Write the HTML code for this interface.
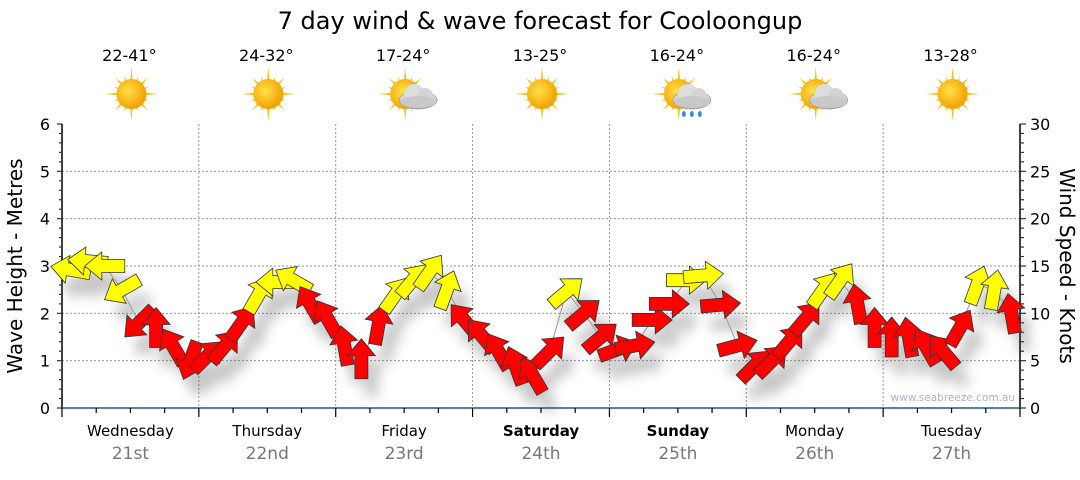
<!DOCTYPE html>
<html><head><meta charset="utf-8">
<style>
body{margin:0;background:#fff;width:1080px;height:475px;overflow:hidden;font-family:"Liberation Sans","DejaVu Sans",sans-serif}
svg text{font-family:"DejaVu Sans","Liberation Sans",sans-serif}
</style></head>
<body>
<svg id="chart" width="1080" height="475" viewBox="0 0 1080 475">
<defs>
<radialGradient id="sunG" cx="0.4" cy="0.4" r="0.6"><stop offset="0" stop-color="#ffe14a"/><stop offset="1" stop-color="#f5a000"/></radialGradient>
<linearGradient id="cloudG" x1="0" y1="0" x2="0" y2="1"><stop offset="0" stop-color="#eee"/><stop offset="1" stop-color="#aaa"/></linearGradient>
<filter id="shadow" x="-50%" y="-50%" width="200%" height="200%"><feGaussianBlur stdDeviation="6"/></filter>
</defs>
<text x="540" y="29" text-anchor="middle" font-size="24" fill="#000">7 day wind &amp; wave forecast for Cooloongup</text>
<g id="grid"></g>
<g id="weather"></g>
<g id="axes"></g>
<g id="shadowLayer" filter="url(#shadow)" opacity="0.3"></g>
<polyline id="windLine" fill="none" stroke="#999" stroke-width="1"></polyline>
<g id="arrows"></g>
<text x="1015" y="401" text-anchor="end" font-size="10.5" fill="#a9b4c8">www.seabreeze.com.au</text>
<text transform="translate(22,266) rotate(-90)" text-anchor="middle" font-size="20" fill="#000">Wave Height - Metres</text>
<text transform="translate(1060,266) rotate(90)" text-anchor="middle" font-size="20" fill="#000">Wind Speed - Knots</text>
</svg>
<script>
const days=["Wednesday","Thursday","Friday","Saturday","Sunday","Monday","Tuesday"];
const dates=["21st","22nd","23rd","24th","25th","26th","27th"];
const boldDays=[false,false,false,true,true,false,false];
const temps=["22-41°","24-32°","17-24°","13-25°","16-24°","16-24°","13-28°"];
const icons=["sun","sun","cloud","sun","rain","cloud","sun"];
const waveTicks=[0,1,2,3,4,5,6];
const windTicks=[0,5,10,15,20,25,30];
const windSpeed=[14.6,15.5,15,12.5,9,8.5,6.5,5,
 5.5,6.5,9,12,13.3,13.5,11,9.5,
 6.6,5.2,8.8,12,13.5,14.4,12.5,9.3,
 7.7,6,4.5,3.5,6,12.3,10,7.5,
 6.2,6.6,9.3,11,13.5,14,10.9,6.6,
 4.5,5,7,9.5,12.5,13.5,11,8.5,
 7.5,7.5,6.5,6,8.5,13,12.5,10];
const windDir=[280,275,270,240,225,0,330,200,
 45,40,35,30,270,300,330,330,
 350,0,10,35,40,35,20,320,
 320,330,340,330,45,50,50,50,
 70,80,90,90,90,85,85,75,
 45,45,40,40,35,35,350,0,
 0,350,330,320,30,20,10,350];

const NS='http://www.w3.org/2000/svg';
const X0=62,X1=1020,Y0=408,YT=124;
const dayW=(X1-X0)/7;
const xPos=i=>X0+(i+0.5)*(X1-X0)/windSpeed.length;
const yWave=v=>Y0-(v/6)*(Y0-YT);
const yWind=v=>Y0-(v/30)*(Y0-YT);
function el(tag,attrs,parent){const e=document.createElementNS(NS,tag);for(const k in attrs)e.setAttribute(k,attrs[k]);parent.appendChild(e);return e;}
const grid=document.getElementById('grid'),axes=document.getElementById('axes');
waveTicks.forEach(v=>{if(v>0&&v<6){const l=el('line',{x1:X0,x2:X1,y1:yWave(v),y2:yWave(v),stroke:'#999','stroke-dasharray':'2,2','stroke-width':1},grid);

}});
for(let d=1;d<7;d++){const x=X0+d*dayW;const l=el('line',{x1:x,x2:x,y1:YT,y2:Y0,stroke:'#999','stroke-dasharray':'2,2','stroke-width':1},grid);

}
el('line',{x1:X0,x2:X0,y1:YT,y2:Y0,stroke:'#000','stroke-width':1.5},axes);
for(let k=0;k<=30;k++){const y=YT+(Y0-YT)*k/30;el('line',{x1:X0-(k%5==0?5:3),x2:X0,y1:y,y2:y,stroke:'#333','stroke-width':1.2},axes);}
waveTicks.forEach(v=>{const t=el('text',{x:X0-12,y:yWave(v)+6,'text-anchor':'end','font-size':16,fill:'#000'},axes);t.textContent=v;

});
el('line',{x1:X1,x2:X1,y1:YT,y2:Y0,stroke:'#000','stroke-width':1.5},axes);
for(let k=0;k<=30;k++){const y=yWind(k);el('line',{x1:X1,x2:X1+(k%5==0?6:4),y1:y,y2:y,stroke:'#333','stroke-width':1.2},axes);}
windTicks.forEach(v=>{const t=el('text',{x:X1+10,y:yWind(v)+6,'font-size':16,fill:'#000'},axes);t.textContent=v;

});
el('line',{x1:X0,x2:X1,y1:Y0,y2:Y0,stroke:'#1a5a8a','stroke-width':1.5},axes);
for(let k=0;k<=28;k++){const x=X0+k*dayW/4;el('line',{x1:x,x2:x,y1:Y0,y2:Y0+(k%4==0?9:5),stroke:'#000','stroke-width':1.2},axes);}
days.forEach((d,i)=>{const cx=X0+(i+0.5)*dayW;
const t=el('text',{x:cx,y:436,'text-anchor':'middle','font-size':15,fill:'#000','font-weight':boldDays[i]?'bold':'normal'},axes);t.textContent=d;


const t2=el('text',{x:cx,y:459,'text-anchor':'middle','font-size':17,fill:'#777'},axes);t2.textContent=dates[i];


const t3=el('text',{x:cx-1,y:61,'text-anchor':'middle','font-size':16,fill:'#000'},axes);t3.textContent=temps[i];

});
const w=document.getElementById('weather');
icons.forEach((ic,i)=>{const cx=X0+(i+0.5)*dayW+1,cy=94;const g=el('g',{},w);


for(let r=0;r<16;r++){const a=r*Math.PI/8,L=(r%2?22:27)*(r%4==0?1:0.85);
el('polygon',{points:`${cx+Math.cos(a)*L},${cy+Math.sin(a)*L} ${cx+Math.cos(a+0.12)*12},${cy+Math.sin(a+0.12)*12} ${cx+Math.cos(a-0.12)*12},${cy+Math.sin(a-0.12)*12}`,fill:'#f3c21a'},g);}
el('circle',{cx:cx,cy:cy,r:15,fill:'url(#sunG)'},g);
if(ic!=='sun'){const ox=cx+13,oy=cy+2;
el('ellipse',{cx:ox,cy:oy+4,rx:19,ry:9,fill:'url(#cloudG)',stroke:'#999','stroke-width':0.7},g);
el('circle',{cx:ox-4,cy:oy-2,r:10,fill:'#ddd'},g);
el('circle',{cx:ox+7,cy:oy,r:8,fill:'#d4d4d4'},g);
el('ellipse',{cx:ox,cy:oy+6,rx:18,ry:6,fill:'#c8c8c8'},g);
if(ic==='rain'){[-8,0,8].forEach(dx=>{el('ellipse',{cx:ox+dx,cy:oy+18,rx:2,ry:3,fill:'#3a8fd8'},g);});}}});
const arrows=document.getElementById('arrows'),sh=document.getElementById('shadowLayer');
const pts=[];
const shape="-20,-6.5 3,-6.5 3,-14 20,0 3,14 3,6.5 -20,6.5";
windSpeed.forEach((v,i)=>{const x=xPos(i),y=yWind(v);pts.push(x+','+y);
const rot=windDir[i]-90;
el('polygon',{points:shape,transform:`translate(${x+10},${y+18}) rotate(${rot})`,fill:'#444'},sh);
const p=el('polygon',{points:shape,transform:`translate(${x},${y}) rotate(${rot})`,fill:v>=12?'#ffff00':'#ff0000',stroke:'#333','stroke-width':0.8},arrows);

});
document.getElementById('windLine').setAttribute('points',pts.join(' '));
</script>
</body></html>
